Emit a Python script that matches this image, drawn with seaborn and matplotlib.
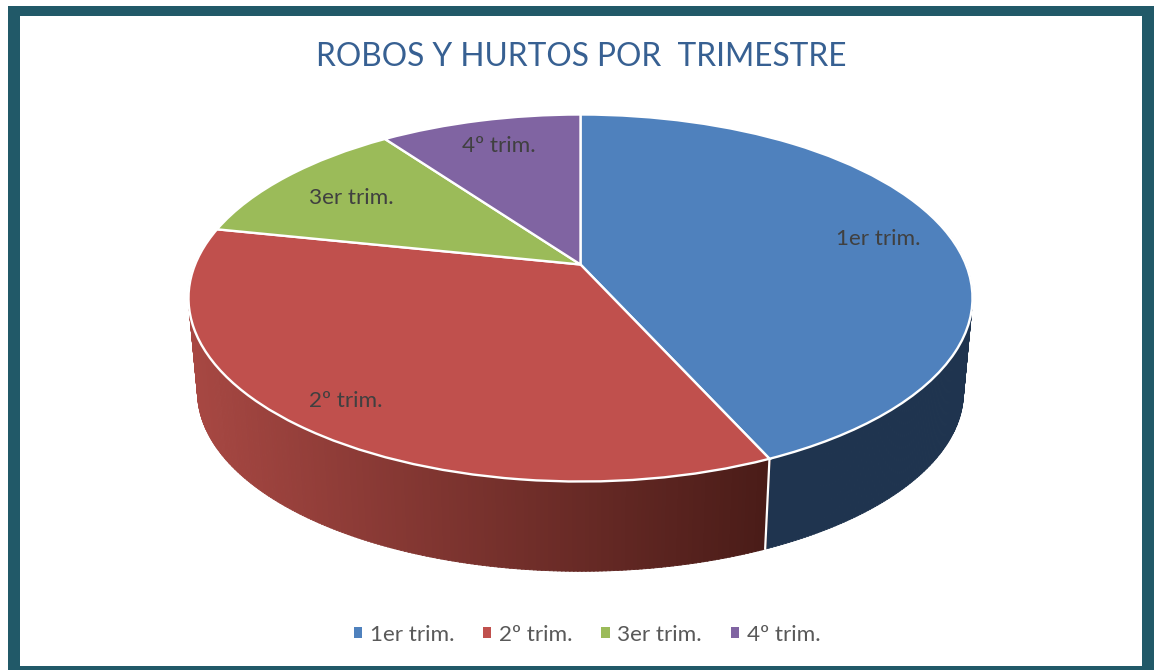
import numpy as np
import seaborn as sns
import matplotlib
matplotlib.use('Agg')
import matplotlib.pyplot as plt
from matplotlib.patches import Rectangle, Patch
from matplotlib.transforms import Transform
from matplotlib.colors import to_rgb

title = 'ROBOS Y HURTOS POR  TRIMESTRE'
labels = ['1er trim.', '2º trim.', '3er trim.', '4º trim.']
values = [43.3, 35.0, 11.8, 9.9]
colors = ['#4F81BD', '#C0504D', '#9BBB59', '#8064A2']

sns.set_theme(style='white')
plt.rcParams['font.family'] = ['Lato', 'DejaVu Sans']


# tilted disc: unit circle -> pixels, with the far side shrunk
class Disc(Transform):
    input_dims = output_dims = 2

    def __init__(self, cx, cy, scale=1.0):
        super().__init__()
        self.cx, self.cy, self.scale = cx, cy, scale

    def transform_non_affine(self, xy):
        xy = np.asarray(xy, dtype=float)
        u, v = xy[:, 0], xy[:, 1]
        d = 1 + 0.1826 * v
        x = self.cx + self.scale * 385.4 * u / d
        y = self.cy - self.scale * (183.5 * v + 33.5) / d
        return np.column_stack([x, y])


top = Disc(580.5, 298)
bottom = Disc(580.5, 392, 0.977)

fig, ax = plt.subplots(figsize=(11.54, 6.70), dpi=100)
ax.set_position([0, 0, 1, 1])

wedges, _ = ax.pie(values, colors=sns.color_palette(colors), startangle=90,
                   counterclock=False, wedgeprops={'edgecolor': 'white', 'linewidth': 1.7})
ax.set_aspect('auto')
ax.set_xlim(0, 1154)
ax.set_ylim(670, 0)
ax.axis('off')

# frame
ax.add_patch(Rectangle((8, 6), 1160, 680, facecolor='#215968', edgecolor='none', zorder=0))
ax.add_patch(Rectangle((20, 16), 1122, 650, facecolor='white', edgecolor='none', zorder=0.5))

# side wall, strip by strip along the front of the rim
red_left = np.array(to_rgb('#A84843'))
red_right = np.array(to_rgb('#4A1C18'))
for w, c in zip(wedges, colors):
    for a in np.arange(w.theta1, w.theta2, 0.5):
        t = np.radians([a, a + 0.6])
        pts = np.column_stack([np.cos(t), np.sin(t)])
        if pts[0, 1] > 0.15:
            continue
        p1 = top.transform_non_affine(pts)
        p2 = bottom.transform_non_affine(pts)
        poly = np.vstack([p1, p2[::-1]])
        if c == colors[0]:
            col = '#1F344F'
        else:
            f = np.clip((poly[:, 0].mean() - 190) / 575, 0, 1)
            col = red_left + (red_right - red_left) * f
        ax.fill(poly[:, 0], poly[:, 1], color=col, linewidth=0.6, zorder=1)

# white seam between the blue and red walls
a = np.radians(wedges[0].theta1)
seam = np.array([[np.cos(a), np.sin(a)]])
s1, s2 = top.transform_non_affine(seam)[0], bottom.transform_non_affine(seam)[0]
ax.plot([s1[0], s2[0]], [s1[1], s2[1]], color='white', lw=1.6, zorder=1.5)

# top face over the walls
for w in wedges:
    w.set_transform(top + ax.transData)
    w.set_zorder(2)

ax.text(581, 57.5, title, ha='center', va='center', fontsize=22.8, color='#376092', zorder=3)

label_x = [878, 345.5, 351.5, 498.5]
label_y = [239, 401, 198, 146]
for lab, x, y in zip(labels, label_x, label_y):
    ax.text(x, y, lab, ha='center', va='center', fontsize=16.2, color='#404040', zorder=3)

handles = [Patch(facecolor=c, edgecolor='none') for c in colors]
ax.legend(handles, labels, loc='center', bbox_to_anchor=(587 / 1154, 1 - 635 / 670),
          bbox_transform=ax.transAxes, ncol=4, frameon=False, fontsize=16.2,
          labelcolor='#595959', handlelength=0.37, handleheight=0.37,
          handletextpad=0.33, columnspacing=1.29)

fig.savefig('out.png', dpi=100)
